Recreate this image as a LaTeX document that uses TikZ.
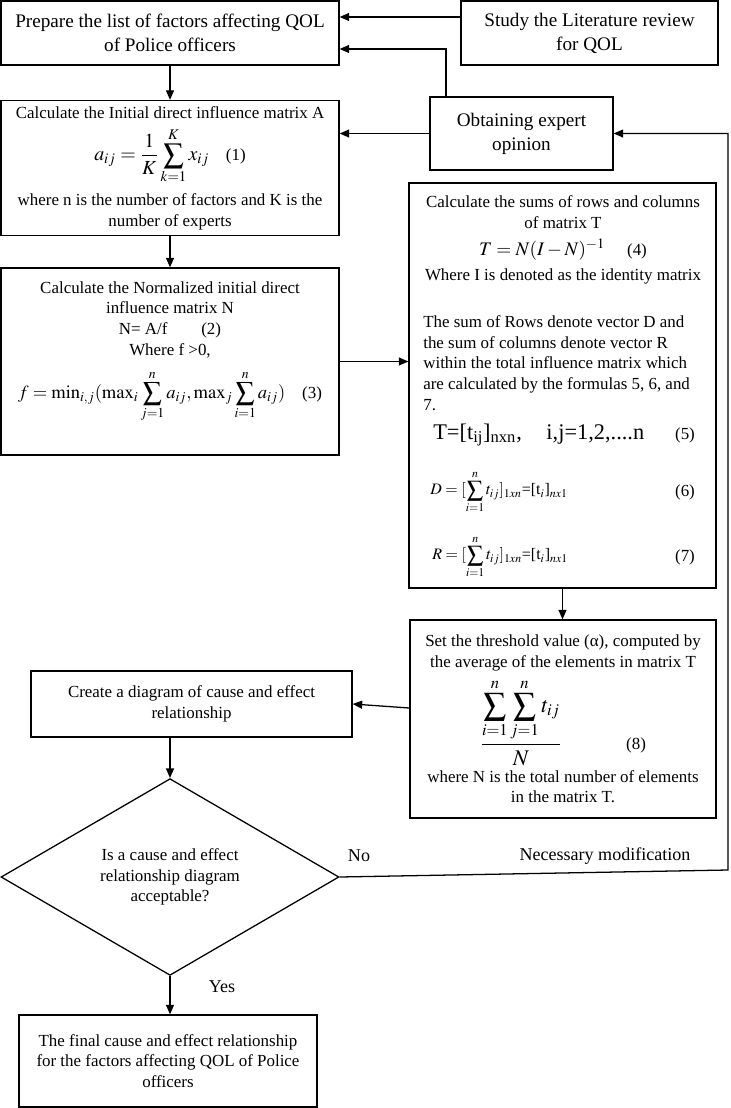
\documentclass[tikz,border=0pt]{standalone}
\usepackage{mathptmx}
\usepackage[no-math]{fontspec}
\setmainfont{Liberation Serif}
\usetikzlibrary{shapes.geometric}
\usetikzlibrary{arrows.meta}
\tikzset{
    stepbox/.style = {rectangle, thick, draw=black, align=center, inner sep=2pt},
    topbox/.style = {stepbox, font=\fontsize{12}{15}\selectfont},
    decision/.style = {diamond, thick, draw=black, align=center, inner sep=0pt},
    txt/.style = {align=center, inner sep=0pt},
    txtl/.style = {align=left, inner sep=0pt},
    lbl/.style = {inner sep=0pt, font=\fontsize{11.3}{13}\selectfont},
    edgen/.style = {-{Triangle[length=6pt,width=5pt]}, thick},
    every picture/.style={font issue=\fontsize{10.6}{13}},
    font issue/.style={execute at begin picture={#1\selectfont}
  }
}
\newcommand{\bigeq}{\fontsize{12.5}{15}\selectfont}

\begin{document}
\begin{tikzpicture}[x=0.022cm,y=-0.022cm]
\useasboundingbox (0,0) rectangle (731,1108);
%
\node[topbox, minimum width=7.436cm, minimum height=1.41cm] at (170,33) (prep) {Prepare the list of factors affecting QOL\\of Police officers};
\node[topbox, minimum width=5.654cm, minimum height=1.41cm] at (589.5,33) (study) {Study the Literature review\\for QOL};
\node[topbox, minimum width=4.026cm, minimum height=1.606cm] at (521.5,133.5) (obtain) {Obtaining expert\\opinion};
\node[stepbox, minimum width=7.436cm, minimum height=2.97cm] at (170,168) (init) {Calculate the Initial direct influence matrix A\\[5pt]
  {\bigeq$\displaystyle a_{ij}=\frac{1}{K}\sum_{k=1}^{K}x_{ij}$}\hspace{1em}(1)\\[5pt]
  where n is the number of factors and K is the\\number of experts};
%
\node[stepbox, minimum width=7.436cm, minimum height=4.114cm] at (170,361.5) (norm) {};
\node[txt, anchor=north] at (170,281) (normtxt) {Calculate the Normalized initial direct\\influence matrix N\\N= A/f\hspace{2em}(2)\\Where f >0,\\[7pt]
  {\fontsize{11.6}{14}\selectfont$\displaystyle f=\min\nolimits_{i,j}(\max\nolimits_{i}\sum_{j=1}^{n}a_{ij},\max\nolimits_{j}\sum_{i=1}^{n}a_{ij})$}\hspace{1em}(3)};
%
\node[stepbox, minimum width=6.754cm, minimum height=8.91cm] at (562.5,385.5) (sums) {};
\node[txt, anchor=north] at (563,195) (sumshead) {Calculate the sums of rows and columns\\of matrix T\\[4pt]
  {\fontsize{12}{15}\selectfont$T=N(I-N)^{-1}$}\hspace{1.3em}(4)\\[3pt]Where I is denoted as the identity matrix};
\node[txtl, anchor=north west] at (423,315) (sumsbody) {The sum of Rows denote vector D and\\the sum of columns denote vector R\\within the total influence matrix which\\are calculated by the formulas 5, 6, and\\7.};
\node[inner sep=0pt, anchor=west, font=\fontsize{14}{16}\selectfont] at (433,435) (eqfive) {T=[t\textsubscript{ij}]\textsubscript{nxn},\hspace{1.1em}i,j=1,2,....n};
\node[inner sep=0pt] at (685,435) (numfive) {(5)};
\node[inner sep=0pt, anchor=west, font=\fontsize{10}{12}\selectfont] at (430,492) (eqsix) {$\displaystyle D=[\sum_{i=1}^{n}t_{ij}]_{1xn}$=[t$_{i}$]$_{nx1}$};
\node[inner sep=0pt] at (685,492) (numsix) {(6)};
\node[inner sep=0pt, anchor=west, font=\fontsize{10}{12}\selectfont] at (432,557) (eqseven) {$\displaystyle R=[\sum_{i=1}^{n}t_{ij}]_{1xn}$=[t$_{i}$]$_{nx1}$};
\node[inner sep=0pt] at (685,557) (numseven) {(7)};
%
\node[stepbox, minimum width=6.732cm, minimum height=4.356cm] at (563,719) (thresh) {Set the threshold value (α), computed by\\the average of the elements in matrix T\\[4pt]
  {\fontsize{14}{16}\selectfont$\displaystyle\frac{\displaystyle\sum_{i=1}^{n}\sum_{j=1}^{n}t_{ij}}{N}$}\hspace{3.8em}(8)\\[2pt]
  where N is the total number of elements\\in the matrix T.};
\node[stepbox, minimum width=7.062cm, minimum height=1.452cm] at (191.5,704) (create) {Create a diagram of cause and effect\\relationship};
\node[decision, minimum width=7.436cm, minimum height=3.894cm] at (170,877) (decide) {Is a cause and effect\\relationship diagram\\acceptable?};
\node[stepbox, minimum width=6.556cm, minimum height=2.024cm] at (168,1061) (final) {The final cause and effect relationship\\for the factors affecting QOL of Police\\officers};
%
\node[lbl] at (359,856) (nolbl) {No};
\node[lbl] at (605,856) (modlbl) {Necessary modification};
\node[lbl] at (222,987) (yeslbl) {Yes};
%
\coordinate (ylit) at (0,17);
\coordinate (yexp) at (446,49);
\coordinate (ycreate) at (0,708);
\coordinate (fbk) at (728,870);
%
\draw[edgen] (study.west |- ylit) -- (prep.east |- ylit);
\draw[edgen] (obtain.north -| yexp) -- (yexp) -- (prep.east |- yexp);
\draw[edgen] (obtain.west) -- (obtain.west -| init.east);
\draw[edgen] (prep.south) -- (init.north);
\draw[edgen] (init.south) -- (norm.north);
\draw[edgen] (norm.east) -- (norm.east -| sums.west);
\draw[edgen] (sums.south) -- (sums.south |- thresh.north);
\draw[edgen] (thresh.west |- ycreate) -- (create.east);
\draw[edgen] (decide.north |- create.south) -- (decide.north);
\draw[edgen] (decide.south) -- (decide.south |- final.north);
\draw[edgen] (decide.east) -- (fbk) -- (fbk |- obtain.east) -- (obtain.east);
\end{tikzpicture}
\end{document}
